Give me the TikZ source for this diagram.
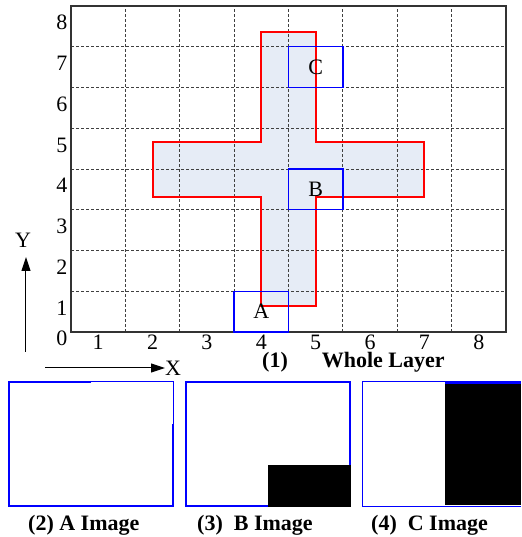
\documentclass[tikz,border=0pt]{standalone}
\usepackage{fontspec}
\setmainfont{Liberation Serif}
\usetikzlibrary{arrows.meta}
\definecolor{crossfill}{RGB}{230,236,246}

\begin{document}
\begin{tikzpicture}[
  x=1pt, y=1pt,
  >={Triangle[length=14pt,width=9pt]},
  every node/.style={font=\fontsize{22}{26}\selectfont, inner sep=0pt},
  gridline/.style={black!75, line width=0.8pt, dash pattern=on 3pt off 2pt},
  cell/.style={draw=blue, line width=1.4pt, minimum width=\cw pt, minimum height=\rh pt},
  outline/.style={red, line width=2pt},
  caption/.style={font=\fontsize{22}{26}\selectfont\bfseries, anchor=base west}
]

% Parameters (in pt)
\def\cw{54.375}   % width of one grid column
\def\rh{40.75}    % height of one grid row

\useasboundingbox (-71,-205) rectangle (450,332);

% --- Whole layer (grid units) ---
\begin{scope}[x=\cw pt, y=\rh pt]
  % cross-shaped part
  \fill[crossfill] (3.5,0.65) -- (4.5,0.65) -- (4.5,3.32) -- (6.5,3.32) -- (6.5,4.66)
    -- (4.5,4.66) -- (4.5,7.35) -- (3.5,7.35) -- (3.5,4.66) -- (1.5,4.66)
    -- (1.5,3.32) -- (3.5,3.32) -- cycle;

  % dashed grid
  \foreach \i in {1,...,7} {
    \draw[gridline] (\i,0) -- (\i,8);
    \draw[gridline] (0,\i) -- (8,\i);
  }
  \draw[black!80, line width=1.2pt] (0,0) rectangle (8,8);

  % outline of the part
  \draw[outline] (3.5,0.65) -- (4.5,0.65) -- (4.5,3.32) -- (6.5,3.32) -- (6.5,4.66)
    -- (4.5,4.66) -- (4.5,7.35) -- (3.5,7.35) -- (3.5,4.66) -- (1.5,4.66)
    -- (1.5,3.32) -- (3.5,3.32) -- cycle;

  % image windows
  \node[cell] (A) at (3.5,0.5) {A};
  \node[cell] (B) at (4.5,3.5) {B};
  \node[cell] (C) at (4.5,6.5) {C};

  % numbers along the sides
  \foreach \k in {1,...,8} {
    \node (xnum\k) at (\k-0.5,-0.245) {\k};
    \node (ynum\k) at (-0.166,\k-0.41) {\k};
  }
  \node (znum) at (-0.166,-0.15) {0};
\end{scope}

% --- Axes ---
\coordinate (yfoot) at (-45,-20);
\coordinate (yhead) at (-45,75);
\draw[->, line width=1pt] (yfoot) -- (yhead);
\node (ylabel) at (-48,92) {Y};

\coordinate (xfoot) at (-26,-36);
\coordinate (xhead) at (94,-36);
\draw[->, line width=1pt] (xfoot) -- (xhead);
\node[anchor=west] (xlabel) at (xhead) {X};

\node[caption] (whole) at (191,-36) {(1)\hspace{34pt}Whole Layer};

% --- Image A ---
\draw[blue, line width=2pt] (20,-50) -- (-62,-50) -- (-62,-174) -- (102,-174) -- (102,-92);
\draw[blue, line width=1pt] (20,-50) -- (102,-50) -- (102,-92);

% --- Image B ---
\draw[blue, line width=2pt] (115,-50) rectangle (279,-174);
\fill (197,-133) rectangle (280,-175);

% --- Image C ---
\draw[blue, line width=1pt] (450,-50) -- (291,-50) -- (291,-174) -- (450,-174);
\fill (374,-52) rectangle (450,-172.5);
\draw[blue, line width=2pt] (374,-51) -- (450,-51);

% --- Captions ---
\node[caption] (capA) at (-43,-198) {(2) A Image};
\node[caption] (capB) at (126,-198) {(3)\ \ B Image};
\node[caption] (capC) at (300,-198) {(4)\ \ C Image};

\end{tikzpicture}
\end{document}
